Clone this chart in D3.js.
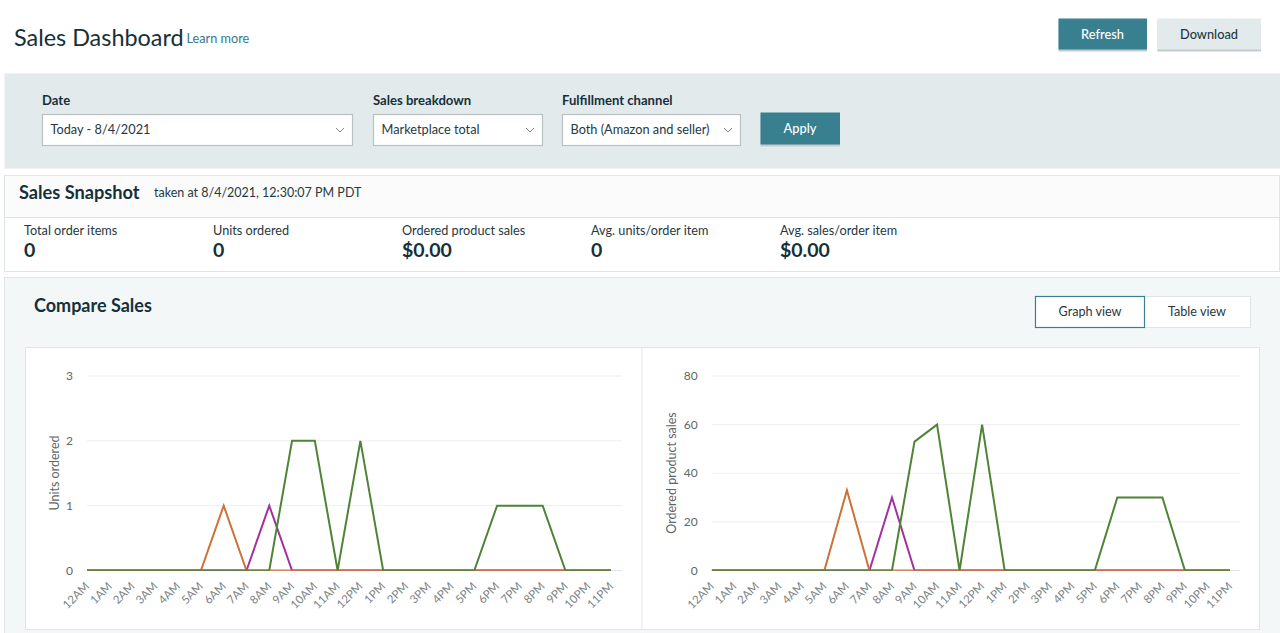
<!DOCTYPE html>
<html>
<head>
<meta charset="utf-8">
<script src="https://cdn.jsdelivr.net/npm/d3@7"></script>
<style>
  html, body { margin: 0; padding: 0; background: #fff; overflow: hidden; }
  svg { display: block; }
  text { font-family: Lato, sans-serif; fill: #16303a; }
  .tick-y { font-size: 12px; fill: #5d6668; }
  .tick-x { font-size: 11.5px; fill: #7b8385; }
  .axis-title { font-size: 12.5px; fill: #5d6668; }
</style>
</head>
<body>
<script>
var hours = ['12AM','1AM','2AM','3AM','4AM','5AM','6AM','7AM','8AM','9AM','10AM','11AM',
             '12PM','1PM','2PM','3PM','4PM','5PM','6PM','7PM','8PM','9PM','10PM','11PM'];

var unitsPurple = [0,0,0,0,0,0,0,0,1,0,0,0,0,0,0,0,0,0,0,0,0,0,0,0];
var unitsOrange = [0,0,0,0,0,0,1,0,0,0,0,0,0,0,0,0,0,0,0,0,0,0,0,0];
var unitsGreen  = [0,0,0,0,0,0,0,0,0,2,2,0,2,0,0,0,0,0,1,1,1,0,0,0];

var salesPurple = [0,0,0,0,0,0,0,0,30,0,0,0,0,0,0,0,0,0,0,0,0,0,0,0];
var salesOrange = [0,0,0,0,0,0,33,0,0,0,0,0,0,0,0,0,0,0,0,0,0,0,0,0];
var salesGreen  = [0,0,0,0,0,0,0,0,0,53,60,0,60,0,0,0,0,0,30,30,30,0,0,0];

var unitsTicks = [0,1,2,3];
var salesTicks = [0,20,40,60,80];

var metricNames = ['Total order items','Units ordered','Ordered product sales','Avg. units/order item','Avg. sales/order item'];
var metricValues = ['0','0','$0.00','0','$0.00'];

const TEAL = '#38808f';
const BORDER = '#dfe4e5';

var svg = d3.select('body').append('svg')
  .attr('width', 1280)
  .attr('height', 633);

var box = function(x, y, w, h, fill, stroke){
  return svg.append('rect')
    .attr('x', x + 0.5).attr('y', y + 0.5)
    .attr('width', w).attr('height', h)
    .attr('fill', fill)
    .attr('stroke', stroke || 'none');
};

var label = function(x, y, str, size, weight, color, anchor){
  return svg.append('text')
    .attr('x', x).attr('y', y)
    .attr('font-size', size)
    .attr('font-weight', weight || 400)
    .attr('text-anchor', anchor || 'start')
    .style('fill', color || '#16303a')
    .text(str);
};

var button = function(x, y, w, h, str, fill, color){
  box(x, y + 2, w - 0.5, h, '#c3cbcd');
  box(x, y, w - 0.5, h, fill);
  label(x + w / 2, y + h / 2 + 5, str, 12.8, 500, color, 'middle');
};

var select = function(x, w, title, value){
  label(x, 105, title, 13.1, 700);
  box(x, 114, w - 1, 31, '#fff', '#b9c1c3').attr('stroke-width', 1.2);
  label(x + 8.5, 133.5, value, 12.75, 400, '#26383f');
  var cx = x + w - 13;
  svg.append('path')
    .attr('d', d3.line()([[cx - 4, 128], [cx, 132], [cx + 4, 128]]))
    .attr('fill', 'none')
    .attr('stroke', '#7d888b');
};

// header
label(14, 45.5, 'Sales Dashboard', 23.4, 400, '#16303a');
label(186.5, 43, 'Learn more', 12.7, 400, '#38788a');
button(1058, 18, 89, 31, 'Refresh', TEAL, '#fff');
button(1157, 18, 104, 31, 'Download', '#e3eaec', '#26383f');

// filter panel
box(4, 73, 1276, 95, '#e3eaec');
select(42, 311, 'Date', 'Today - 8/4/2021');
select(373, 170, 'Sales breakdown', 'Marketplace total');
select(562, 179, 'Fulfillment channel', 'Both (Amazon and seller)');
button(760, 112, 80, 32, 'Apply', TEAL, '#fff');

// snapshot
box(4, 175, 1275, 42, '#fbfbfb', BORDER);
box(4, 217, 1275, 54, '#fff', BORDER);
label(19, 198.5, 'Sales Snapshot', 18.2, 700);
label(154, 197, 'taken at 8/4/2021, 12:30:07 PM PDT', 12.5, 400, '#26383f');
metricNames.forEach(function(d, i){
  var x = 24 + i * 189;
  label(x, 235, d, 12.7, 400, '#26383f');
  label(x, 257, metricValues[i], 19.5, 700);
});

// compare panel
box(4, 277, 1276, 360, '#f4f7f8', BORDER);
label(34, 311.5, 'Compare Sales', 18, 700);
box(1144, 296, 106, 31, '#fff', BORDER);
box(1035, 296, 109, 31, '#fff', TEAL).attr('stroke-width', 1.2);
label(1090, 316, 'Graph view', 12.6, 400, '#26383f', 'middle');
label(1197, 316, 'Table view', 12.6, 400, '#26383f', 'middle');
box(25, 347, 1234, 282, '#fff', BORDER);
svg.append('line')
  .attr('x1', 642).attr('x2', 642)
  .attr('y1', 347).attr('y2', 629)
  .attr('stroke', BORDER);

var drawChart = function(opts){
  var x = d3.scalePoint().domain(hours).range([opts.left, opts.right]);
  var y = d3.scaleLinear().domain(opts.domain).range([570.5, 376]);
  var g = svg.append('g');

  // lines get cut at the baseline, half the stroke is hidden there
  svg.append('clipPath').attr('id', opts.clipId)
    .append('rect')
    .attr('x', opts.left).attr('y', 360)
    .attr('width', opts.right - opts.left)
    .attr('height', y(0) + 0.2 - 360);

  // gridlines
  g.selectAll('.grid')
    .data(opts.ticks)
    .enter().append('line')
    .attr('x1', opts.left).attr('x2', opts.gridEnd)
    .attr('y1', function(d){ return y(d); })
    .attr('y2', function(d){ return y(d); })
    .attr('stroke', function(d){ return d === 0 ? '#dde4ea' : '#eceeef'; });

  // y labels
  g.selectAll('.tick-y')
    .data(opts.ticks)
    .enter().append('text')
    .attr('class', 'tick-y')
    .attr('x', opts.left - 14)
    .attr('y', function(d){ return y(d) + 4; })
    .attr('text-anchor', 'end')
    .text(function(d){ return d; });

  // x labels
  g.selectAll('.tick-x')
    .data(hours)
    .enter().append('text')
    .attr('class', 'tick-x')
    .attr('text-anchor', 'end')
    .attr('transform', function(d){ return 'translate(' + (x(d) + 3) + ',587) rotate(-45)'; })
    .text(function(d){ return d; });

  g.append('text')
    .attr('class', 'axis-title')
    .attr('text-anchor', 'middle')
    .attr('transform', 'translate(' + opts.titleX + ',' + opts.titleY + ') rotate(-90)')
    .text(opts.title);

  var line = d3.line()
    .x(function(d, i){ return x(hours[i]); })
    .y(function(d){ return y(d); });

  g.append('g')
    .attr('clip-path', 'url(#' + opts.clipId + ')')
    .selectAll('path')
    .data(opts.series)
    .enter().append('path')
    .attr('fill', 'none')
    .attr('stroke-width', 2)
    .attr('stroke', function(d){ return d.color; })
    .attr('d', function(d){ return line(d.values); });
};

drawChart({
  clipId: 'clip-units',
  left: 87, right: 611, gridEnd: 622,
  domain: [0, 3], ticks: unitsTicks,
  title: 'Units ordered', titleX: 59, titleY: 473,
  series: [
    {color: '#a2319f', values: unitsPurple},
    {color: '#cc7138', values: unitsOrange},
    {color: '#4f8437', values: unitsGreen}
  ]
});

drawChart({
  clipId: 'clip-sales',
  left: 711.7, right: 1230, gridEnd: 1240,
  domain: [0, 80], ticks: salesTicks,
  title: 'Ordered product sales', titleX: 676, titleY: 473,
  series: [
    {color: '#a2319f', values: salesPurple},
    {color: '#cc7138', values: salesOrange},
    {color: '#4f8437', values: salesGreen}
  ]
});
</script>
</body>
</html>
